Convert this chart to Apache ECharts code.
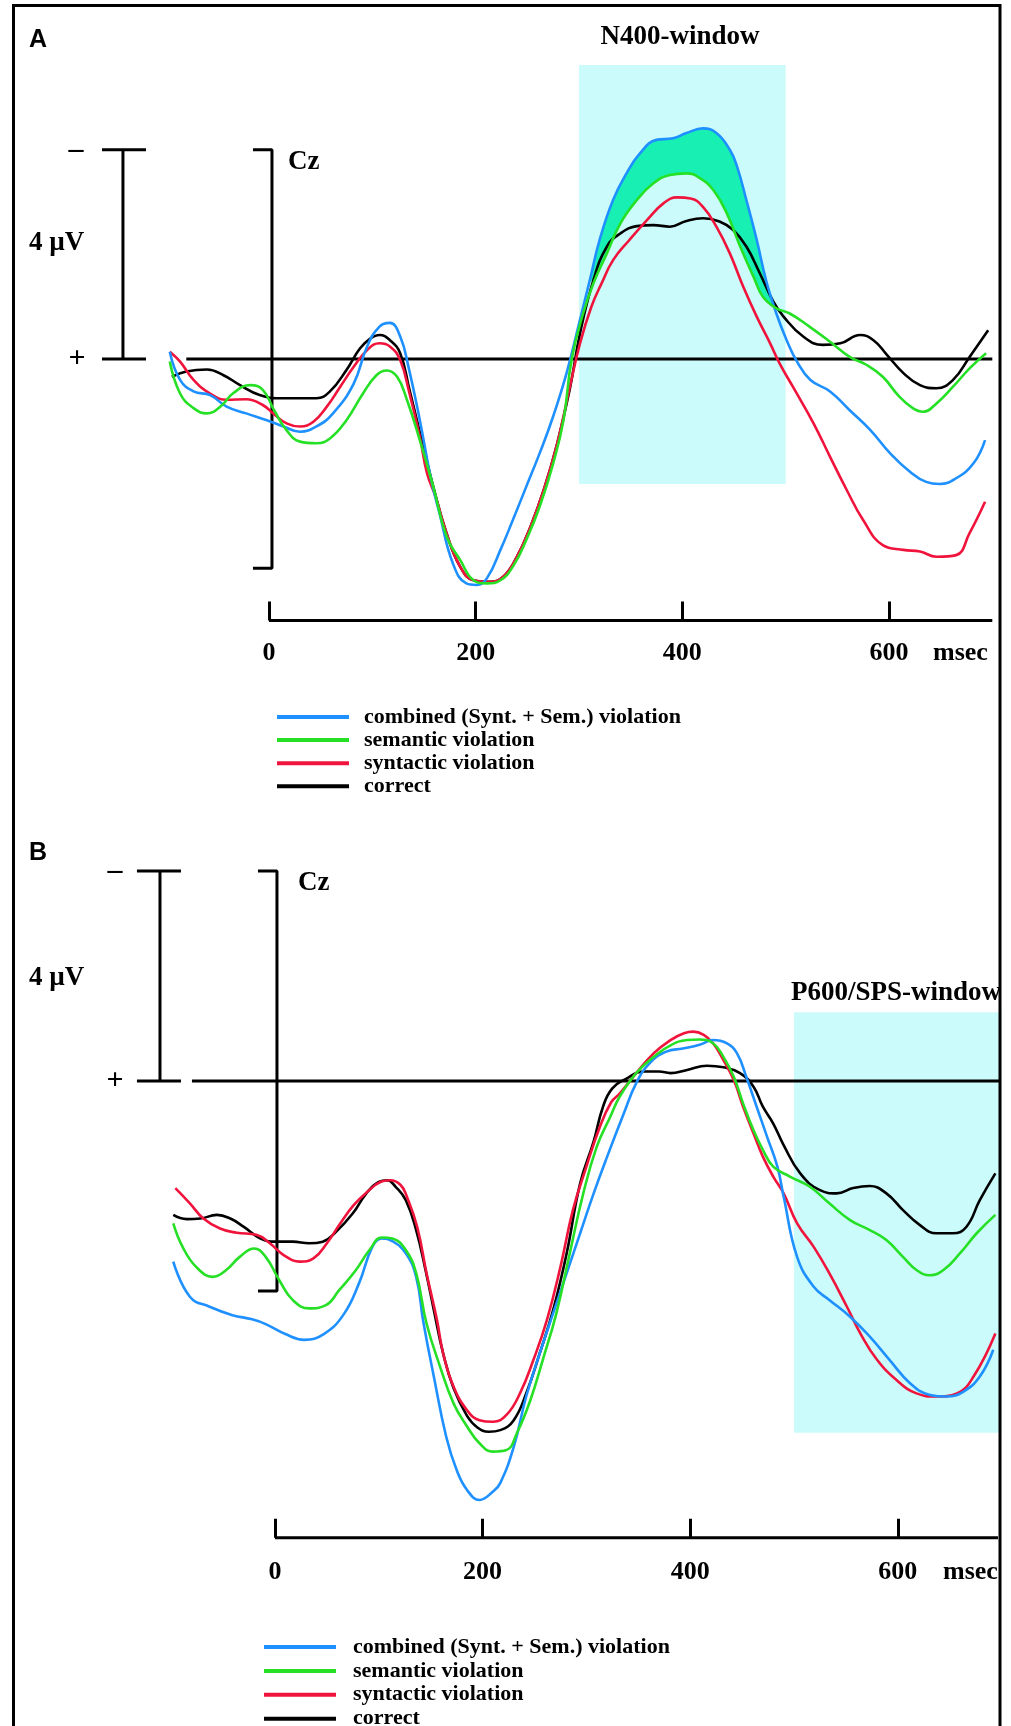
<!DOCTYPE html>
<html><head><meta charset="utf-8">
<script src="https://cdn.jsdelivr.net/npm/echarts@6/dist/echarts.min.js"></script>
<style>html,body{margin:0;padding:0;background:#fff}#c{width:1011px;height:1726px}</style>
</head><body><div id="c"></div>
<script>
// ---------- data (ms, µV; negative plotted upward) ----------
const seriesNames = ['combined (Synt. + Sem.) violation', 'semantic violation', 'syntactic violation', 'correct'];
const xTickValues = [0, 200, 400, 600];
const N400_WINDOW = [300, 500];
const P600_WINDOW = [500, 700];
const A_FILL_RANGE = [310, 492];

const A_combined = [[-96,-0.14],[-86,0.40],[-73,0.62],[-57,0.69],[-41,0.91],[-22,1.04],[-2,1.17],[14,1.29],[30,1.39],[46,1.29],[62,1.04],[82,0.47],[95,-0.24],[107,-0.62],[117,-0.69],[127,-0.43],[135,0.15],[146,1.17],[157,2.31],[165,2.95],[178,3.91],[191,4.29],[201,4.32],[211,4.19],[224,3.65],[236,3.08],[249,2.44],[262,1.80],[275,1.10],[288,0.27],[301,-0.75],[311,-1.55],[320,-2.28],[333,-3.04],[346,-3.55],[359,-3.93],[375,-4.19],[391,-4.22],[404,-4.32],[420,-4.41],[433,-4.32],[446,-4.00],[453,-3.68],[462,-3.04],[472,-2.28],[481,-1.51],[491,-0.87],[501,-0.36],[511,0.05],[524,0.40],[543,0.62],[562,0.98],[582,1.36],[601,1.80],[620,2.15],[636,2.35],[649,2.39],[665,2.28],[682,1.99],[693,1.55]];
const A_semantic = [[-96,0.05],[-86,0.66],[-73,0.94],[-60,1.04],[-47,0.91],[-35,0.66],[-18,0.50],[-6,0.59],[5,0.98],[17,1.36],[30,1.58],[46,1.61],[59,1.52],[75,1.17],[91,0.66],[104,0.31],[114,0.22],[124,0.34],[133,0.75],[146,1.55],[159,2.44],[172,3.40],[185,3.84],[198,4.23],[211,4.29],[224,4.23],[236,3.97],[249,3.46],[262,2.82],[275,2.00],[285,1.17],[293,0.00],[304,-0.87],[314,-1.45],[327,-2.02],[340,-2.59],[356,-3.04],[372,-3.36],[388,-3.52],[404,-3.55],[417,-3.46],[430,-3.23],[443,-2.79],[456,-2.15],[469,-1.57],[478,-1.19],[491,-0.97],[504,-0.87],[523,-0.62],[543,-0.33],[562,-0.04],[578,0.11],[594,0.34],[610,0.72],[623,0.94],[633,1.01],[646,0.85],[662,0.53],[678,0.18],[694,-0.11]];
const A_syntactic = [[-96,-0.14],[-86,0.05],[-73,0.40],[-57,0.66],[-41,0.78],[-22,0.77],[-6,0.88],[4,1.04],[17,1.23],[30,1.29],[43,1.20],[56,0.91],[69,0.53],[82,0.15],[95,-0.17],[107,-0.30],[117,-0.24],[127,0.02],[136,0.66],[146,1.49],[153,2.19],[161,2.62],[172,3.34],[185,3.97],[198,4.23],[214,4.26],[227,4.16],[240,3.78],[253,3.21],[266,2.50],[279,1.61],[291,0.55],[301,-0.30],[312,-1.00],[322,-1.45],[333,-1.89],[349,-2.28],[366,-2.66],[382,-2.98],[395,-3.09],[408,-3.07],[420,-2.91],[433,-2.53],[446,-2.02],[459,-1.38],[472,-0.81],[485,-0.30],[494,0.08],[507,0.53],[527,1.23],[543,1.87],[559,2.50],[575,3.08],[594,3.56],[614,3.65],[630,3.68],[646,3.78],[665,3.75],[678,3.33],[693,2.73]];
const A_correct = [[-94,0.34],[-80,0.24],[-60,0.20],[-44,0.31],[-28,0.50],[-9,0.69],[11,0.75],[30,0.75],[46,0.75],[59,0.62],[75,0.21],[88,-0.20],[98,-0.39],[107,-0.46],[117,-0.36],[127,-0.11],[136,0.59],[146,1.40],[159,2.44],[172,3.34],[185,3.97],[198,4.23],[214,4.26],[227,4.16],[240,3.78],[253,3.21],[266,2.50],[279,1.61],[291,0.59],[301,-0.49],[314,-1.51],[327,-2.15],[340,-2.40],[356,-2.54],[372,-2.56],[388,-2.53],[404,-2.64],[420,-2.69],[436,-2.63],[449,-2.47],[462,-2.15],[475,-1.64],[488,-1.10],[498,-0.81],[517,-0.43],[536,-0.27],[553,-0.30],[572,-0.46],[585,-0.36],[598,-0.08],[614,0.27],[630,0.50],[646,0.56],[662,0.40],[678,-0.04],[696,-0.55]];

const B_combined = [[-98,3.44],[-82,4.11],[-63,4.30],[-41,4.46],[-22,4.54],[-9,4.63],[10,4.82],[28,4.93],[47,4.82],[66,4.45],[81,3.85],[94,3.15],[103,3.00],[113,3.05],[126,3.28],[136,3.73],[143,4.60],[153,5.63],[165,6.78],[175,7.41],[185,7.79],[197,7.98],[210,7.82],[217,7.66],[230,6.97],[242,6.01],[255,5.19],[268,4.42],[281,3.66],[294,2.90],[307,2.14],[320,1.44],[336,0.62],[348,0.04],[361,-0.34],[377,-0.56],[393,-0.62],[409,-0.69],[422,-0.78],[435,-0.72],[445,-0.53],[454,-0.08],[464,0.49],[474,1.06],[484,1.63],[490,2.20],[503,3.35],[519,3.92],[534,4.17],[554,4.49],[573,4.87],[592,5.31],[612,5.76],[631,5.98],[647,6.01],[663,5.92],[679,5.63],[692,5.12]];
const B_semantic = [[-98,2.71],[-89,3.16],[-76,3.54],[-60,3.73],[-47,3.60],[-34,3.35],[-20,3.19],[-9,3.35],[4,3.79],[17,4.17],[33,4.33],[49,4.27],[62,3.98],[78,3.60],[91,3.22],[103,2.98],[113,3.00],[126,3.22],[136,3.66],[146,4.62],[159,5.44],[172,6.14],[185,6.58],[197,6.90],[210,7.06],[223,7.03],[233,6.71],[246,6.08],[258,5.31],[271,4.43],[284,3.28],[297,2.14],[310,1.25],[323,0.68],[332,0.30],[348,-0.15],[365,-0.46],[381,-0.68],[397,-0.78],[409,-0.79],[422,-0.72],[432,-0.46],[442,-0.08],[451,0.43],[461,0.94],[470,1.31],[480,1.63],[496,1.82],[515,2.01],[534,2.33],[554,2.65],[573,2.84],[589,3.03],[605,3.35],[618,3.60],[631,3.70],[644,3.60],[660,3.28],[676,2.90],[694,2.55]];
const B_syntactic = [[-96,2.04],[-82,2.33],[-69,2.62],[-53,2.81],[-37,2.89],[-18,2.93],[-5,3.09],[8,3.31],[24,3.44],[37,3.38],[50,3.09],[63,2.71],[76,2.36],[89,2.11],[102,1.92],[111,1.89],[121,1.98],[127,2.20],[137,2.78],[146,3.66],[156,4.55],[162,5.19],[172,5.82],[185,6.27],[197,6.46],[210,6.49],[223,6.36],[236,5.95],[249,5.31],[262,4.55],[275,3.54],[287,2.46],[300,1.63],[313,0.87],[324,0.40],[332,0.24],[348,-0.15],[365,-0.53],[381,-0.78],[394,-0.91],[403,-0.94],[413,-0.88],[422,-0.72],[432,-0.40],[442,-0.02],[451,0.49],[461,1.00],[470,1.44],[480,1.82],[490,2.14],[503,2.71],[519,3.16],[534,3.66],[551,4.30],[564,4.81],[580,5.31],[599,5.70],[618,5.95],[637,6.01],[657,5.95],[673,5.63],[694,4.81]];
const B_correct = [[-98,2.55],[-85,2.63],[-72,2.62],[-56,2.55],[-43,2.62],[-30,2.78],[-14,3.00],[1,3.06],[17,3.06],[33,3.09],[46,3.06],[59,2.87],[75,2.52],[88,2.14],[100,1.92],[108,1.89],[116,2.01],[126,2.27],[136,2.84],[145,3.60],[153,4.36],[162,5.19],[172,5.85],[185,6.38],[195,6.60],[206,6.68],[217,6.65],[230,6.46],[242,5.95],[255,5.19],[268,4.36],[281,3.28],[294,1.95],[307,1.15],[316,0.49],[325,0.14],[339,-0.05],[355,-0.18],[370,-0.18],[381,-0.15],[397,-0.21],[416,-0.29],[432,-0.26],[448,-0.15],[461,0.11],[470,0.49],[480,0.81],[490,1.22],[506,1.76],[525,2.08],[541,2.14],[557,2.04],[573,2.00],[589,2.14],[605,2.46],[621,2.74],[637,2.90],[653,2.90],[666,2.78],[679,2.27],[694,1.76]];

// ---------- styling ----------
const COLORS = ['#1e90ff', '#26e026', '#f0143c', '#000000'];
const SERIF = '"Liberation Serif", "Times New Roman", serif';
const SANS = '"Liberation Sans", Arial, sans-serif';
const CYAN = '#ccfbfb';
const TEAL = '#17f0b2';

const chart = echarts.init(document.getElementById('c'), null, {renderer: 'canvas'});

function curve(name, data, idx, color, z) {
  return {name, type: 'line', xAxisIndex: idx, yAxisIndex: idx, data, smooth: 0.45,
    showSymbol: false, symbol: 'none', clip: false, animation: false, z,
    lineStyle: {color, width: 2.6}, itemStyle: {color}};
}
function deco(idx, data, z) {
  return {type: 'line', xAxisIndex: idx, yAxisIndex: idx, data, showSymbol: false, symbol: 'none',
    clip: false, silent: true, animation: false, z: z || 4, lineStyle: {color: '#000', width: 3}};
}
function windowArea(idx, x0, x1, y0, y1) {
  return {type: 'line', xAxisIndex: idx, yAxisIndex: idx, data: [[x0, 0]], symbol: 'none', silent: true,
    animation: false, z: 0, lineStyle: {width: 0},
    markArea: {silent: true, itemStyle: {color: CYAN}, data: [[{coord: [x0, y0]}, {coord: [x1, y1]}]]}};
}
function txt(x, y, text, size, align, family) {
  return {type: 'text', x, y, z: 30, silent: true,
    style: {text, font: 'bold ' + size + 'px ' + family, fill: '#000', textAlign: align, textVerticalAlign: 'middle'}};
}
function xAxisCfg(idx, margin) {
  return {type: 'value', gridIndex: idx, min: -200, max: 700, interval: 200, position: 'bottom',
    axisLine: {show: false, onZero: false},
    axisTick: {show: true, inside: true, length: 19, lineStyle: {color: '#000', width: 3}, customValues: xTickValues},
    axisLabel: {show: true, margin, color: '#000', fontFamily: SERIF, fontWeight: 'bold', fontSize: 26, customValues: xTickValues},
    splitLine: {show: false}};
}
function yAxisCfg(idx, min, max) {
  return {type: 'value', gridIndex: idx, min, max, inverse: true, show: false, splitLine: {show: false}};
}
function legendCfg(left, top, gap, pad) {
  return {data: seriesNames, orient: 'vertical', left, top, height: 120, padding: 0, itemWidth: 72, itemHeight: 4,
    itemGap: gap, icon: 'rect', selectedMode: false,
    textStyle: {fontFamily: SERIF, fontWeight: 'bold', fontSize: 22, color: '#000', padding: [0, 0, 0, pad]}};
}

const fillSeries = {
  type: 'custom', xAxisIndex: 0, yAxisIndex: 0, data: [[0, 0]], clip: false, silent: true, animation: false, z: 2,
  renderItem: function (params, api) {
    const up = A_combined.filter(p => p[0] >= A_FILL_RANGE[0] && p[0] <= A_FILL_RANGE[1]);
    const lo = A_semantic.filter(p => p[0] >= A_FILL_RANGE[0] && p[0] <= A_FILL_RANGE[1]).slice().reverse();
    const pts = up.concat(lo).map(p => api.coord(p));
    return {type: 'polygon', shape: {points: pts, smooth: 0.2}, style: {fill: TEAL}};
  }
};

const option = {
  backgroundColor: '#ffffff',
  animation: false,
  grid: [
    {left: 62.3, top: 45.2, width: 930, height: 575.3},
    {left: 67.4, top: 818.5, width: 934.2, height: 719.25}
  ],
  xAxis: [xAxisCfg(0, 20), xAxisCfg(1, 22)],
  yAxis: [yAxisCfg(0, -6, 5), yAxisCfg(1, -5, 8.7)],
  legend: [legendCfg(277, 706, 1.1, 10), legendCfg(264, 1636, 1.9, 12)],
  series: [
    windowArea(0, N400_WINDOW[0], N400_WINDOW[1], -5.62, 2.39),
    windowArea(1, P600_WINDOW[0], P600_WINDOW[1], -1.31, 6.70),
    fillSeries,
    // time axis baselines
    deco(0, [[0, 5], [700, 5]], 3),
    deco(1, [[0, 8.7], [696.5, 8.7]], 3),
    // zero lines
    deco(0, [[-80, 0], [700, 0]], 3),
    deco(1, [[-80, 0], [699, 0]], 3),
    // 4 µV scale bars
    deco(0, [[-161.6, -4], [-119, -4], [-141.3, -4], [-141.3, 0], [-161.6, 0], [-119, 0]]),
    deco(1, [[-133, -4], [-90.6, -4], [-110.8, -4], [-110.8, 0], [-133, 0], [-90.6, 0]]),
    // Cz brackets
    deco(0, [[-15.5, -4], [2.9, -4], [2.9, 4], [-15.5, 4]]),
    deco(1, [[-16.4, -4], [1.9, -4], [1.9, 4], [-16.4, 4]]),
    // panel A curves
    curve(seriesNames[3], A_correct, 0, COLORS[3], 5),
    curve(seriesNames[2], A_syntactic, 0, COLORS[2], 6),
    curve(seriesNames[0], A_combined, 0, COLORS[0], 7),
    curve(seriesNames[1], A_semantic, 0, COLORS[1], 8),
    // panel B curves
    curve(seriesNames[3], B_correct, 1, COLORS[3], 5),
    curve(seriesNames[2], B_syntactic, 1, COLORS[2], 6),
    curve(seriesNames[0], B_combined, 1, COLORS[0], 7),
    curve(seriesNames[1], B_semantic, 1, COLORS[1], 8)
  ],
  graphic: [
    {type: 'rect', z: 40, silent: true, shape: {x: 13.5, y: 5.5, width: 986.5, height: 1800},
      style: {fill: 'none', stroke: '#000', lineWidth: 3}},
    txt(29, 40, 'A', 25, 'left', SANS),
    txt(680, 37, 'N400-window', 27, 'center', SERIF),
    txt(288, 162, 'Cz', 27, 'left', SERIF),
    txt(29, 243, '4 µV', 27, 'left', SERIF),
    txt(77, 359, '+', 30, 'center', SERIF),
    txt(76, 150, '–', 30, 'center', SERIF),
    txt(933, 653, 'msec', 26, 'left', SERIF),
    txt(29, 853, 'B', 25, 'left', SANS),
    txt(298, 883, 'Cz', 27, 'left', SERIF),
    txt(29, 978, '4 µV', 27, 'left', SERIF),
    txt(115, 1081, '+', 30, 'center', SERIF),
    txt(115, 871, '–', 30, 'center', SERIF),
    txt(1001, 993, 'P600/SPS-window', 27, 'right', SERIF),
    txt(943, 1572, 'msec', 26, 'left', SERIF)
  ]
};
chart.setOption(option);
</script>
</body></html>
